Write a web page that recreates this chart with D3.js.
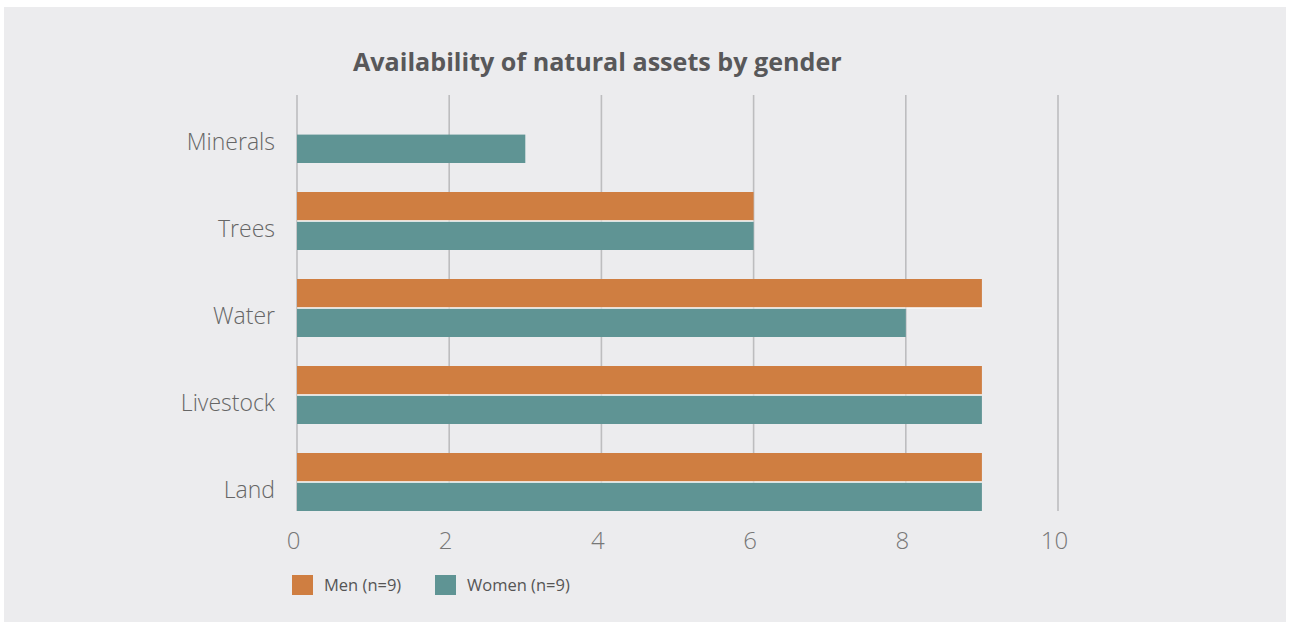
<!DOCTYPE html>
<html>
<head>
<meta charset="utf-8">
<script src="https://cdn.jsdelivr.net/npm/d3@7"></script>
<style>
  html, body { margin: 0; padding: 0; background: #ffffff; }
  svg { display: block; }
</style>
</head>
<body>
<svg id="chart" width="1290" height="626"></svg>
<script>
// ---- Data ----
const categories = ["Minerals", "Trees", "Water", "Livestock", "Land"];
const menValues = [null, 6, 9, 9, 9];
const womenValues = [3, 6, 8, 9, 9];
const seriesNames = ["Men (n=9)", "Women (n=9)"];
const xTicks = [0, 2, 4, 6, 8, 10];
const titleText = "Availability of natural assets by gender";

// ---- Styles ----
const colors = { men: "#CF7E41", women: "#5F9494" };
const svg = d3.select("#chart");

// panel background
svg.append("rect").attr("x", 4).attr("y", 7).attr("width", 1282).attr("height", 615)
  .attr("fill", "#ECECEE");

const x = d3.scaleLinear().domain([0, 10]).range([297, 1058]);
const y = d3.scaleBand().domain(categories).range([90.5, 525.5])
  .paddingInner(29 / 87).paddingOuter(29 / 87 / 2);
const sub = d3.scaleBand().domain(["men", "women"]).range([0, y.bandwidth()]).paddingInner(0.04);

// gridlines
svg.append("g").selectAll("line").data(xTicks).join("line")
  .attr("x1", d => x(d)).attr("x2", d => x(d))
  .attr("y1", 95).attr("y2", 511)
  .attr("stroke", "#BDBDBF").attr("stroke-width", 1.6);

// bars
const rows = categories.map((c, i) => ({ cat: c, men: menValues[i], women: womenValues[i] }));
const g = svg.append("g");
["men", "women"].forEach(key => {
  g.selectAll("rect." + key).data(rows.filter(r => r[key] != null)).join("rect")
    .attr("class", key)
    .attr("x", x(0))
    .attr("y", r => y(r.cat) + sub(key))
    .attr("width", r => x(r[key]) - x(0))
    .attr("height", sub.bandwidth())
    .attr("fill", colors[key]);
});
// thin white separators between paired bars
g.selectAll("line.sep").data(rows.filter(r => r.men != null && r.women != null)).join("line")
  .attr("class", "sep")
  .attr("x1", x(0)).attr("x2", r => x(Math.max(r.men, r.women)))
  .attr("y1", r => y(r.cat) + (sub("men") + sub.bandwidth() + sub("women")) / 2)
  .attr("y2", r => y(r.cat) + (sub("men") + sub.bandwidth() + sub("women")) / 2)
  .attr("stroke", "#FFFFFF").attr("stroke-width", 1.2);

// category labels
svg.append("g").selectAll("text").data(categories).join("text")
  .attr("x", 275)
  .attr("y", d => y(d) + y.bandwidth() / 2 + 8)
  .attr("dy", "0.35em")
  .attr("text-anchor", "end")
  .attr("font-family", "'Open Sans', sans-serif")
  .attr("font-weight", 300)
  .attr("font-size", 23)
  .attr("fill", "#666666")
  .text(d => d);

// x axis tick labels
const xAxis = d3.axisBottom(x).tickValues(xTicks).tickSize(0).tickPadding(0).tickFormat(d3.format("d"));
const ax = svg.append("g").attr("transform", "translate(-4,532)").call(xAxis);
ax.select(".domain").remove();
ax.selectAll("text")
  .attr("dy", "0.71em")
  .attr("font-family", "'Open Sans', sans-serif")
  .attr("font-weight", 300)
  .attr("font-size", 24)
  .attr("fill", "#777777");

// title
const title = svg.append("text")
  .attr("x", 353).attr("y", 71)
  .attr("font-family", "'Open Sans', sans-serif")
  .attr("font-weight", 700)
  .attr("font-size", 25)
  .attr("fill", "#58585A")
  .text(titleText);
const tw = title.node().getComputedTextLength();
title.attr("font-size", 25 * 489 / tw);

// legend
const legend = svg.append("g").attr("transform", "translate(292,575)");
const legItems = [
  { name: seriesNames[0], color: colors.men, x: 0 },
  { name: seriesNames[1], color: colors.women, x: 143 }
];
const li = legend.selectAll("g").data(legItems).join("g")
  .attr("transform", d => `translate(${d.x},0)`);
li.append("rect").attr("width", 21).attr("height", 20).attr("fill", d => d.color);
li.append("text").attr("x", 32).attr("y", 15.5)
  .attr("font-family", "'Open Sans', sans-serif")
  .attr("font-size", 16.5)
  .attr("fill", "#555555")
  .text(d => d.name);
</script>
</body>
</html>
